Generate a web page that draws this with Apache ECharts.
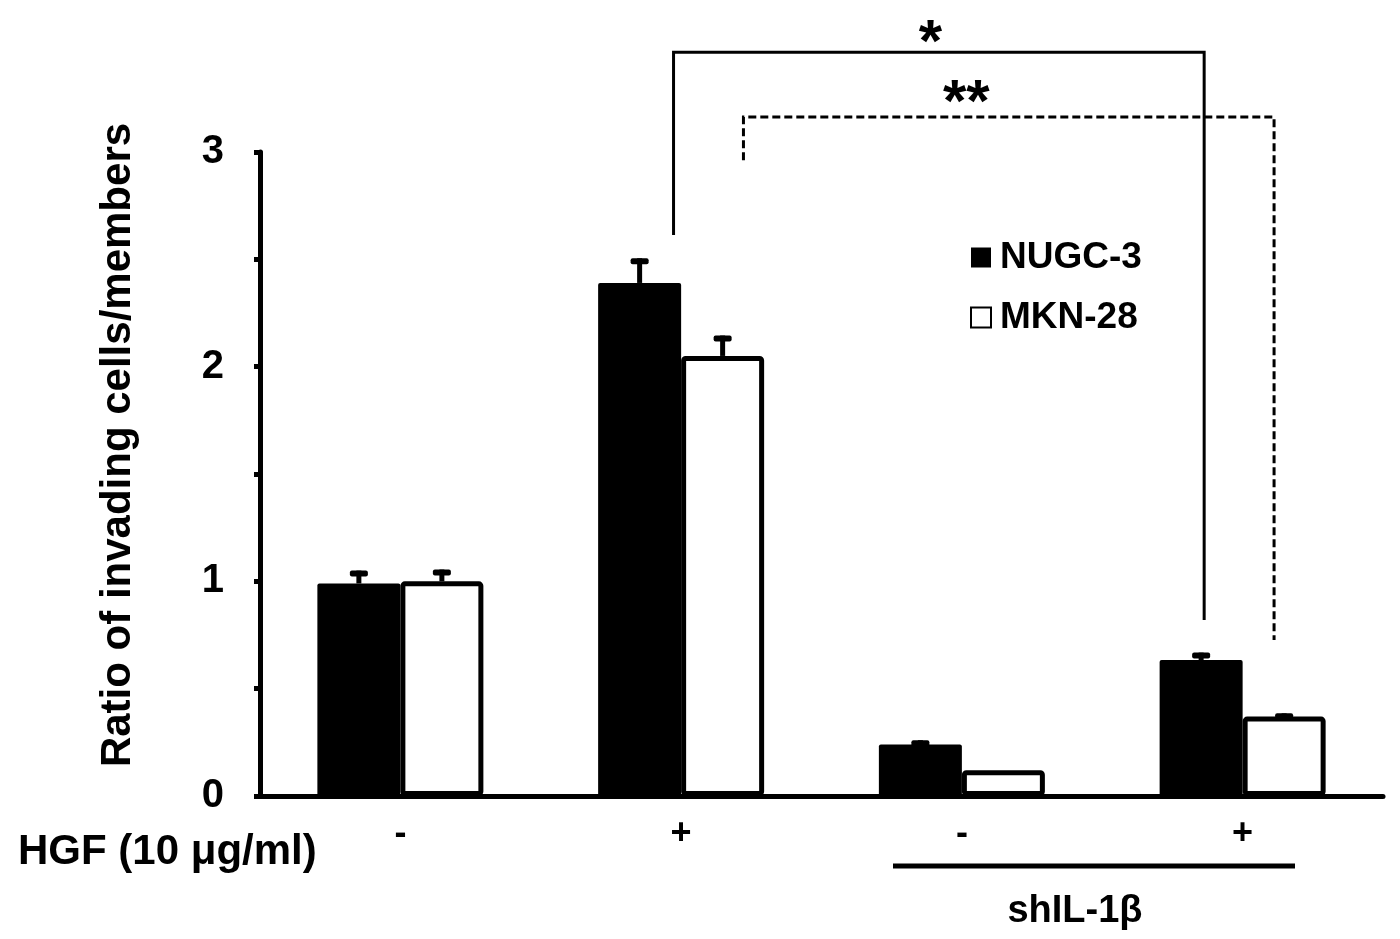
<!DOCTYPE html>
<html style="height: 100%">
<head>
    <meta charset="utf-8">
    <script src="https://cdn.jsdelivr.net/npm/echarts@6/dist/echarts.min.js"></script>
</head>
<body style="height: 100%; margin: 0; background: #fff;">
    <div id="main" style="width: 1400px; height: 939px;"></div>
    <script>
    // data
    var hgfLabels = ['-', '+', '-', '+'];
    var seriesNames = ['NUGC-3', 'MKN-28'];
    var nugcValues = [0.99, 2.39, 0.24, 0.633];
    var nugcErrors = [0.06, 0.115, 0.02, 0.035];
    var mknValues = [1.0, 2.05, 0.12, 0.37];
    var mknErrors = [0.055, 0.095, 0, 0.015];
    var yTicks = [0, 1, 2, 3];

    // significance brackets: [fromCat, toCat, topValue, leftEnd, rightEnd, label]
    var brackets = [
        [1, 3, 3.465, 2.613, 0.82, '*'],
        [1, 3, 3.163, 2.962, 0.727, '**']
    ];

    var FONT = 'Liberation Sans, Arial, sans-serif';
    var BAR_W = 83;
    // pixel tweaks for bracket ends (fraction of band width)
    var bracketOffsets = [
        { from: -0.027, to: -0.137, star: -0.112, starY: 3.5, dash: null },
        { from: 0.222, to: 0.112, star: 0.016, starY: 3.22, dash: [8, 4] }
    ];

    var chart = echarts.init(document.getElementById('main'));

    function errorRender(offset) {
        return function (params, api) {
            var err = api.value(2);
            if (!err) return null;
            var base = api.coord([api.value(0), api.value(1)]);
            var top = api.coord([api.value(0), api.value(1) + err]);
            var x = base[0] + offset;
            return {
                type: 'group',
                children: [{
                    type: 'rect',
                    shape: { x: x - 2.5, y: top[1], width: 5, height: base[1] - top[1] },
                    style: { fill: '#000' }
                }, {
                    type: 'rect',
                    shape: { x: x - 9, y: top[1], width: 18, height: 6, r: 2 },
                    style: { fill: '#000' }
                }]
            };
        };
    }

    function bracketRender(params, api) {
        var i = params.dataIndex;
        var o = bracketOffsets[i];
        var band = api.size([1, 0])[0];
        var xa = api.coord([api.value(0), 0])[0] + o.from * band;
        var xb = api.coord([api.value(1), 0])[0] + o.to * band;
        var yTop = api.coord([0, api.value(2)])[1];
        var yl = api.coord([0, api.value(3)])[1];
        var yr = api.coord([0, api.value(4)])[1];
        var sx = api.coord([2, 0])[0] + o.star * band;
        var sy = api.coord([0, o.starY])[1];
        return {
            type: 'group',
            children: [{
                type: 'polyline',
                shape: { points: [[xa, yl], [xa, yTop], [xb, yTop], [xb, yr]] },
                style: { stroke: '#000', lineWidth: 3, fill: null, lineDash: o.dash }
            }, {
                type: 'text',
                style: {
                    text: brackets[i][5], x: sx, y: sy,
                    font: 'bold 60px ' + FONT, fill: '#000',
                    align: 'center', verticalAlign: 'middle'
                }
            }]
        };
    }

    var option = {
        animation: false,
        grid: { left: 260, right: 17, top: 152, bottom: 143 },
        legend: {
            orient: 'vertical',
            left: 965, top: 234,
            itemWidth: 20, itemHeight: 20, itemGap: 23,
            icon: 'rect',
            textStyle: { fontSize: 37, fontWeight: 'bold', fontFamily: FONT, color: '#000', padding: [0, 0, 0, 4] },
            data: [
                { name: seriesNames[0], itemStyle: { color: '#000', borderWidth: 0 } },
                { name: seriesNames[1], itemStyle: { color: '#fff', borderColor: '#000', borderWidth: 2 } }
            ]
        },
        xAxis: {
            type: 'category',
            data: hgfLabels,
            axisLine: { lineStyle: { color: '#000', width: 5 } },
            axisTick: { inside: true, length: 6, lineStyle: { width: 5, color: '#000' } },
            axisLabel: { fontSize: 36, fontWeight: 'bold', fontFamily: FONT, color: '#000', margin: 20 }
        },
        yAxis: {
            type: 'value',
            min: 0, max: 3, interval: 0.5,
            splitLine: { show: false },
            axisLine: { show: true, lineStyle: { color: '#000', width: 5 } },
            axisTick: { show: true, length: 6, lineStyle: { width: 5, color: '#000' } },
            axisLabel: {
                fontSize: 40, fontWeight: 'bold', fontFamily: FONT, color: '#000', margin: 36,
                formatter: function (v) { return yTicks.indexOf(v) >= 0 ? String(v) : ''; }
            }
        },
        series: [{
            name: seriesNames[0],
            type: 'bar',
            data: nugcValues,
            barWidth: BAR_W,
            barGap: '0%',
            itemStyle: { color: '#000', borderRadius: 2 }
        }, {
            name: seriesNames[1],
            type: 'bar',
            data: mknValues,
            barWidth: BAR_W,
            barGap: '0%',
            itemStyle: { color: '#fff', borderColor: '#000', borderWidth: 5, borderRadius: 2 }
        }, {
            type: 'custom',
            clip: false,
            silent: true,
            z: 3,
            renderItem: errorRender(-BAR_W / 2),
            data: nugcValues.map(function (v, i) { return [i, v, nugcErrors[i]]; })
        }, {
            type: 'custom',
            clip: false,
            silent: true,
            z: 3,
            renderItem: errorRender(BAR_W / 2),
            data: mknValues.map(function (v, i) { return [i, v, mknErrors[i]]; })
        }, {
            type: 'custom',
            clip: false,
            silent: true,
            z: 4,
            renderItem: bracketRender,
            data: brackets.map(function (b) { return [b[0], b[1], b[2], b[3], b[4]]; })
        }],
        graphic: [{
            type: 'text',
            x: 118, y: 445,
            rotation: Math.PI / 2,
            style: {
                text: 'Ratio of invading cells/members',
                font: 'bold 42px ' + FONT, fill: '#000',
                align: 'center', verticalAlign: 'middle'
            }
        }, {
            type: 'text',
            x: 18, y: 852,
            style: {
                text: 'HGF (10 μg/ml)',
                font: 'bold 42px ' + FONT, fill: '#000',
                align: 'left', verticalAlign: 'middle'
            }
        }, {
            type: 'line',
            shape: { x1: 893, y1: 866, x2: 1295, y2: 866 },
            style: { stroke: '#000', lineWidth: 5 }
        }, {
            type: 'text',
            x: 1075, y: 912,
            style: {
                text: 'shIL-1β',
                font: 'bold 38px ' + FONT, fill: '#000',
                align: 'center', verticalAlign: 'middle'
            }
        }]
    };

    chart.setOption(option);
    </script>
</body>
</html>
